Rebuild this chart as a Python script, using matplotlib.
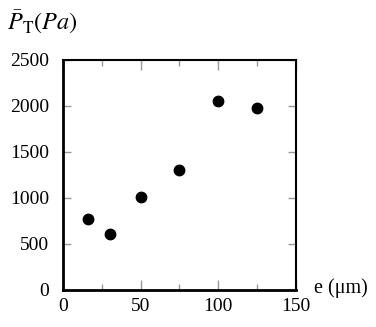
import matplotlib
matplotlib.use("Agg")
import matplotlib.pyplot as plt
from matplotlib.ticker import MultipleLocator

thickness_um = [16, 30, 50, 75, 100, 125]
pressure_pa = [770, 605, 1012, 1302, 2050, 1975]
x_ticks = [0, 50, 100, 150]
y_ticks = [0, 500, 1000, 1500, 2000, 2500]

plt.rcParams['font.family'] = ['Liberation Serif', 'DejaVu Serif']
plt.rcParams['mathtext.fontset'] = 'stix'

fig = plt.figure(figsize=(3.76, 3.27), dpi=100)
ax = fig.add_axes([63/376, 1 - 290/327, 233/376, 230/327])

ax.plot(thickness_um, pressure_pa, 'o', color='black', markersize=7.5, linestyle='none')
ax.set_xlim(0, 150)
ax.set_ylim(0, 2500)
ax.set_xticks(x_ticks)
ax.set_yticks(y_ticks)
ax.xaxis.set_minor_locator(MultipleLocator(25))
ax.tick_params(which='both', direction='in', top=True, right=True, color='#999999',
               labelsize=14)
ax.tick_params(which='major', length=7, width=1)
ax.tick_params(which='minor', length=4, width=1)
ax.tick_params(axis='y', which='major', length=6, pad=10)
ax.tick_params(axis='x', which='major', pad=6)
for s in ax.spines.values():
    s.set_linewidth(1.5)
ax.spines['bottom'].set_linewidth(2)
ax.spines['left'].set_linewidth(2)

fig.text(7/376, 1 - 30/327, r'$\bar{P}_{\mathrm{T}}(Pa)$', fontsize=17.5, ha='left', va='baseline')
fig.text(314/376, 1 - 293/327, 'e (μm)', fontsize=14.5, ha='left', va='baseline')

fig.savefig('out.png', dpi=100)
